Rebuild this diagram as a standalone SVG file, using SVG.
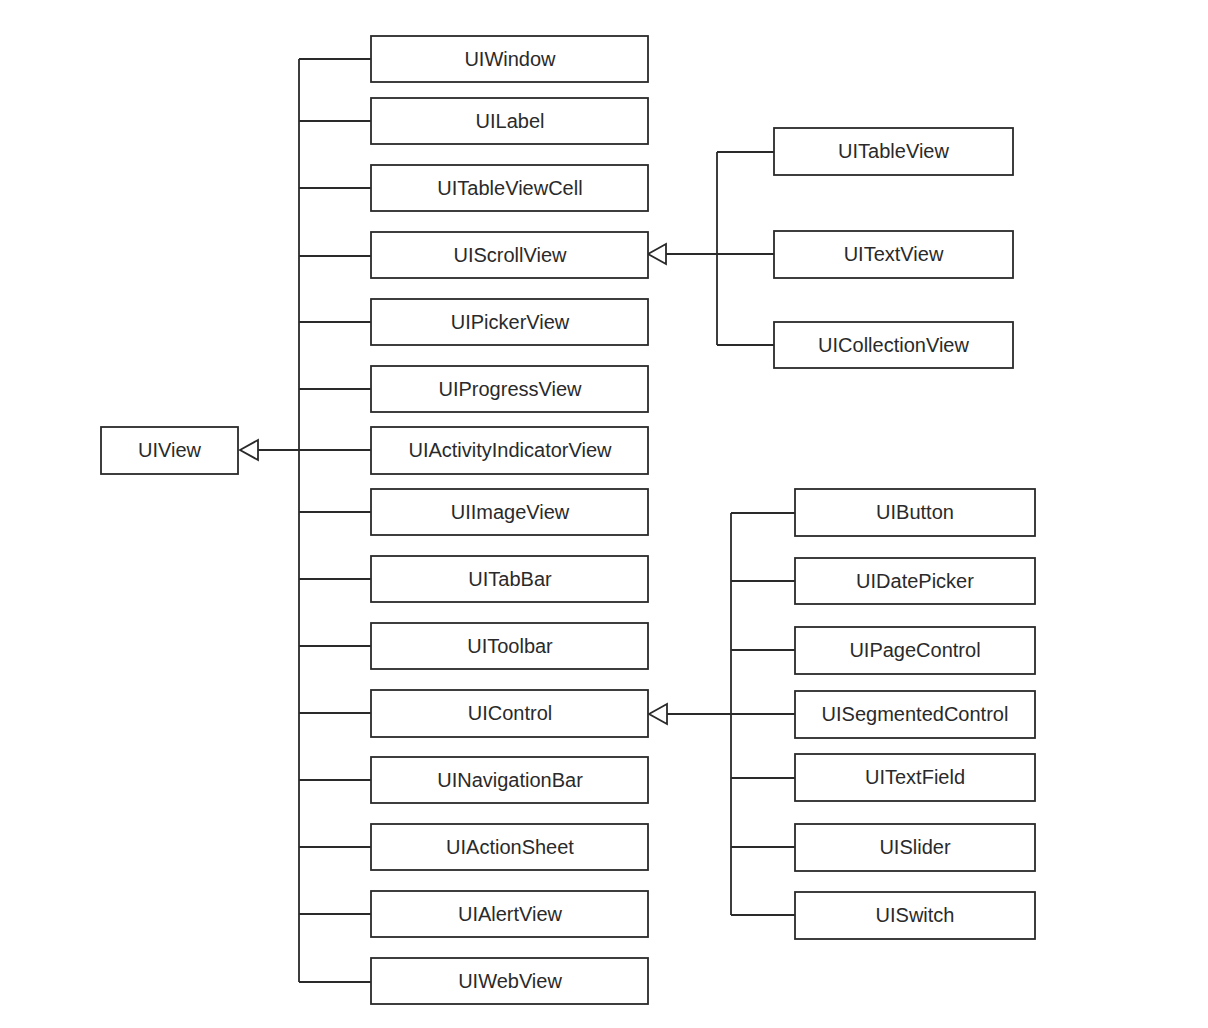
<svg xmlns="http://www.w3.org/2000/svg" width="1208" height="1028" viewBox="0 0 1208 1028">
<style>
.b{fill:#fff;stroke:#2a2a2a;stroke-width:1.8}
.t{font-family:"Liberation Sans",Arial,sans-serif;font-size:20px;fill:#2a2a2a;text-anchor:middle}
.c{fill:none;stroke:#2a2a2a;stroke-width:1.8}
.a{fill:#fff;stroke:#2a2a2a;stroke-width:1.8}
</style>
<rect width="1208" height="1028" fill="#fff"/>
<g id="connectors">
<path class="c" d="M299 59V982M299 59H371M299 121H371M299 188H371M299 256H371M299 322H371M299 389H371M257 450H371M299 512H371M299 579H371M299 646H371M299 713H371M299 780H371M299 847H371M299 914H371M299 982H371"/>
<polygon class="a" points="240,450 258,440 258,460"/>
<path class="c" d="M717 152V345M717 152H774M666 254H774M717 345H774"/>
<polygon class="a" points="648,254 666,244 666,264"/>
<path class="c" d="M731 513V915M731 513H795M731 581H795M731 650H795M667 714H795M731 778H795M731 847H795M731 915H795"/>
<polygon class="a" points="649,714 667,704 667,724"/>
</g>
<g id="UIView"><rect class="b" x="101" y="427" width="137" height="47"/><text class="t" x="169.5" y="457">UIView</text></g>
<g id="UIWindow"><rect class="b" x="371" y="36" width="277" height="46"/><text class="t" x="510" y="66">UIWindow</text></g>
<g id="UILabel"><rect class="b" x="371" y="98" width="277" height="46"/><text class="t" x="510" y="128">UILabel</text></g>
<g id="UITableViewCell"><rect class="b" x="371" y="165" width="277" height="46"/><text class="t" x="510" y="195">UITableViewCell</text></g>
<g id="UIScrollView"><rect class="b" x="371" y="232" width="277" height="46"/><text class="t" x="510" y="262">UIScrollView</text></g>
<g id="UIPickerView"><rect class="b" x="371" y="299" width="277" height="46"/><text class="t" x="510" y="329">UIPickerView</text></g>
<g id="UIProgressView"><rect class="b" x="371" y="366" width="277" height="46"/><text class="t" x="510" y="396">UIProgressView</text></g>
<g id="UIActivityIndicatorView"><rect class="b" x="371" y="427" width="277" height="47"/><text class="t" x="510" y="457">UIActivityIndicatorView</text></g>
<g id="UIImageView"><rect class="b" x="371" y="489" width="277" height="46"/><text class="t" x="510" y="519">UIImageView</text></g>
<g id="UITabBar"><rect class="b" x="371" y="556" width="277" height="46"/><text class="t" x="510" y="586">UITabBar</text></g>
<g id="UIToolbar"><rect class="b" x="371" y="623" width="277" height="46"/><text class="t" x="510" y="653">UIToolbar</text></g>
<g id="UIControl"><rect class="b" x="371" y="690" width="277" height="47"/><text class="t" x="510" y="720">UIControl</text></g>
<g id="UINavigationBar"><rect class="b" x="371" y="757" width="277" height="46"/><text class="t" x="510" y="787">UINavigationBar</text></g>
<g id="UIActionSheet"><rect class="b" x="371" y="824" width="277" height="46"/><text class="t" x="510" y="854">UIActionSheet</text></g>
<g id="UIAlertView"><rect class="b" x="371" y="891" width="277" height="46"/><text class="t" x="510" y="921">UIAlertView</text></g>
<g id="UIWebView"><rect class="b" x="371" y="958" width="277" height="46"/><text class="t" x="510" y="988">UIWebView</text></g>
<g id="UITableView"><rect class="b" x="774" y="128" width="239" height="47"/><text class="t" x="893.5" y="158">UITableView</text></g>
<g id="UITextView"><rect class="b" x="774" y="231" width="239" height="47"/><text class="t" x="893.5" y="261">UITextView</text></g>
<g id="UICollectionView"><rect class="b" x="774" y="322" width="239" height="46"/><text class="t" x="893.5" y="352">UICollectionView</text></g>
<g id="UIButton"><rect class="b" x="795" y="489" width="240" height="47"/><text class="t" x="915" y="519">UIButton</text></g>
<g id="UIDatePicker"><rect class="b" x="795" y="558" width="240" height="46"/><text class="t" x="915" y="588">UIDatePicker</text></g>
<g id="UIPageControl"><rect class="b" x="795" y="627" width="240" height="47"/><text class="t" x="915" y="657">UIPageControl</text></g>
<g id="UISegmentedControl"><rect class="b" x="795" y="691" width="240" height="47"/><text class="t" x="915" y="721">UISegmentedControl</text></g>
<g id="UITextField"><rect class="b" x="795" y="754" width="240" height="47"/><text class="t" x="915" y="784">UITextField</text></g>
<g id="UISlider"><rect class="b" x="795" y="824" width="240" height="47"/><text class="t" x="915" y="854">UISlider</text></g>
<g id="UISwitch"><rect class="b" x="795" y="892" width="240" height="47"/><text class="t" x="915" y="922">UISwitch</text></g>
</svg>
